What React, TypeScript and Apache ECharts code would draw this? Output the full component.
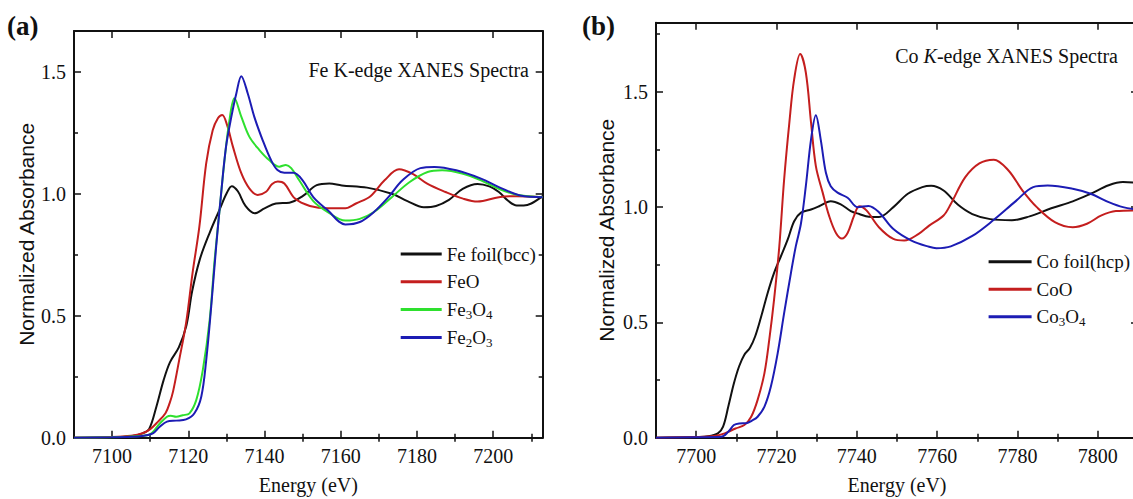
import React, { useEffect, useRef } from 'react';
import * as echarts from 'echarts';

// ---------------- Panel (a): Fe K-edge ----------------
const feXMin = 7090;
const feXMax = 7213;
const feYMax = 1.667;
const feMajorTicks = [7100, 7120, 7140, 7160, 7180, 7200];
const feMinorTicks = [7110, 7130, 7150, 7170, 7190, 7210];
const feYMajor = [0, 0.5, 1.0, 1.5];
const feYMinor = [0.25, 0.75, 1.25];

const feFoilE = [7090, 7100, 7105, 7108, 7109.7, 7111.6, 7113.5, 7115.2, 7117.5, 7119.5, 7121, 7123, 7125.6, 7128.2, 7130, 7131.4, 7133, 7135, 7137.4, 7140, 7143, 7146.5, 7150, 7153.7, 7157, 7160.3, 7166.9, 7173.4, 7177.5, 7181.8, 7185, 7188.4, 7192, 7195.9, 7199, 7201.5, 7204, 7206.2, 7208, 7210, 7213];
const feFoilA = [0, 0.002, 0.006, 0.018, 0.035, 0.126, 0.235, 0.31, 0.37, 0.46, 0.6, 0.73, 0.84, 0.935, 1.0, 1.031, 1.01, 0.95, 0.92, 0.94, 0.96, 0.963, 0.99, 1.035, 1.042, 1.034, 1.025, 1.0, 0.97, 0.945, 0.95, 0.975, 1.02, 1.04, 1.03, 1.007, 0.97, 0.952, 0.952, 0.96, 0.99];

const feOE = [7090, 7100, 7105, 7108, 7110, 7112, 7114, 7115.1, 7116, 7117.6, 7119.4, 7121.1, 7122.9, 7124.7, 7126.4, 7127.8, 7128.9, 7130.2, 7131.7, 7133.9, 7136, 7138.2, 7140.4, 7142, 7143.5, 7145.2, 7148, 7151.9, 7156.6, 7161.2, 7164, 7167.8, 7171.5, 7175.3, 7179, 7182.8, 7187.5, 7192.1, 7195.9, 7201.5, 7206.2, 7213];
const feOA = [0, 0.003, 0.008, 0.018, 0.035, 0.065, 0.1, 0.142, 0.19, 0.318, 0.469, 0.674, 0.865, 1.125, 1.26, 1.31, 1.323, 1.28, 1.193, 1.084, 1.022, 0.995, 1.008, 1.04, 1.05, 1.042, 0.98, 0.95, 0.94, 0.94, 0.96, 0.99, 1.055, 1.1, 1.08, 1.04, 1.007, 0.98, 0.968, 0.986, 0.99, 0.986];

const fe3o4E = [7090, 7100, 7105, 7109.7, 7112.5, 7114.4, 7115.4, 7116.8, 7118.5, 7120.3, 7122.1, 7123.8, 7125.6, 7126.9, 7128.2, 7129.5, 7130.8, 7132.1, 7133.9, 7136, 7138.6, 7141.2, 7143.9, 7145.6, 7147, 7149.1, 7152.8, 7156.6, 7161.2, 7165, 7168.7, 7173.4, 7178.1, 7182.8, 7186.6, 7192.1, 7196.8, 7201.5, 7206.2, 7213];
const fe3o4A = [0, 0.002, 0.005, 0.012, 0.058, 0.086, 0.09, 0.086, 0.092, 0.1, 0.155, 0.277, 0.482, 0.728, 0.933, 1.138, 1.302, 1.391, 1.316, 1.234, 1.18, 1.138, 1.111, 1.118, 1.105, 1.055, 0.97, 0.925, 0.89, 0.897, 0.925, 0.986, 1.048, 1.089, 1.096, 1.082, 1.055, 1.02, 0.996, 0.986];

const fe2o3E = [7090, 7100, 7105, 7107.9, 7110.7, 7112.5, 7114.4, 7116.8, 7119.4, 7121.6, 7123.4, 7124.7, 7126, 7127.3, 7128.6, 7129.9, 7131.3, 7132.6, 7133.9, 7135.6, 7137.3, 7139.5, 7141.7, 7143.4, 7145.2, 7147.6, 7150, 7152.8, 7156.6, 7161.2, 7165, 7168.7, 7172.5, 7176.2, 7180.9, 7184.6, 7190.3, 7196.8, 7201.5, 7207.1, 7213];
const fe2o3A = [0, 0.002, 0.004, 0.007, 0.018, 0.045, 0.066, 0.07, 0.075, 0.1, 0.168, 0.318, 0.536, 0.782, 1.0, 1.193, 1.316, 1.411, 1.482, 1.411, 1.316, 1.22, 1.138, 1.097, 1.086, 1.086, 1.055, 0.986, 0.932, 0.874, 0.884, 0.925, 0.986, 1.055, 1.105, 1.11, 1.096, 1.062, 1.027, 0.993, 0.986];

// ---------------- Panel (b): Co K-edge ----------------
const coXMin = 7690;
const coXMax = 7810;
const coYMax = 1.8;
const coMajorTicks = [7700, 7720, 7740, 7760, 7780, 7800];
const coMinorTicks = [7710, 7730, 7750, 7770, 7790];
const coYMajor = [0, 0.5, 1.0, 1.5];
const coYMinor = [0.25, 0.75, 1.25, 1.75];

const coFoilE = [7690, 7700, 7703, 7705.4, 7706.7, 7708, 7709.4, 7710.7, 7712, 7713.4, 7714.7, 7716.1, 7717.8, 7719.4, 7721.1, 7722.8, 7724.4, 7726.1, 7728.6, 7730.6, 7733.5, 7736, 7738.5, 7740.6, 7743, 7745.5, 7749.1, 7752.7, 7756.3, 7758.5, 7761.6, 7765.2, 7768.75, 7773.2, 7778.6, 7783, 7788.4, 7793.75, 7798.2, 7802.7, 7806.25, 7810];
const coFoilA = [0, 0.003, 0.006, 0.019, 0.048, 0.135, 0.236, 0.31, 0.36, 0.39, 0.44, 0.52, 0.628, 0.715, 0.787, 0.86, 0.939, 0.976, 0.99, 1.004, 1.026, 1.012, 0.983, 0.97, 0.958, 0.957, 1.0, 1.058, 1.087, 1.093, 1.072, 1.01, 0.97, 0.948, 0.943, 0.96, 0.995, 1.025, 1.058, 1.095, 1.109, 1.105];

const coOE = [7690, 7700, 7704.5, 7707.1, 7709.8, 7712, 7713.7, 7715.3, 7717, 7718.2, 7719.4, 7720.7, 7721.9, 7723.2, 7724.4, 7725.9, 7727.3, 7728.6, 7729.8, 7731.5, 7733.1, 7734.8, 7736.3, 7737.7, 7739.3, 7740.6, 7742.4, 7745.5, 7749.1, 7751.8, 7755.4, 7758, 7761.6, 7763.4, 7767, 7770.5, 7774.1, 7777.7, 7781.25, 7784.8, 7789.3, 7793.75, 7797.3, 7800.9, 7804.5, 7810];
const coOA = [0, 0.003, 0.007, 0.019, 0.04, 0.055, 0.091, 0.164, 0.28, 0.425, 0.6, 0.83, 1.12, 1.367, 1.555, 1.664, 1.584, 1.367, 1.178, 1.063, 0.962, 0.888, 0.864, 0.888, 0.962, 1.004, 0.986, 0.913, 0.862, 0.855, 0.884, 0.92, 0.964, 1.014, 1.13, 1.19, 1.206, 1.16, 1.072, 1.0, 0.935, 0.913, 0.928, 0.964, 0.983, 0.986];

const co3o4E = [7690, 7700, 7706.25, 7708, 7709.4, 7710.7, 7712.5, 7714, 7715.3, 7717, 7718.6, 7720.3, 7721.9, 7723.6, 7724.8, 7726.1, 7727.3, 7728.6, 7729.8, 7731, 7732.3, 7733.5, 7735.2, 7737.7, 7740.2, 7742.9, 7745.5, 7749.1, 7753.6, 7758, 7759.8, 7763.4, 7768.75, 7774.1, 7779.5, 7783.9, 7787.5, 7793.75, 7798.2, 7802.7, 7806.25, 7810];
const co3o4A = [0, 0.002, 0.004, 0.026, 0.055, 0.062, 0.063, 0.075, 0.091, 0.135, 0.222, 0.367, 0.54, 0.715, 0.83, 0.93, 1.091, 1.294, 1.399, 1.294, 1.149, 1.091, 1.063, 1.041, 1.0, 1.005, 0.978, 0.905, 0.855, 0.828, 0.822, 0.83, 0.875, 0.945, 1.025, 1.087, 1.094, 1.08, 1.058, 1.022, 1.0, 0.99];

const feNames = ['Fe foil(bcc)', 'FeO', 'Fe3O4', 'Fe2O3'];
const coNames = ['Co foil(hcp)', 'CoO', 'Co3O4'];
const colors = ['#111111', '#c41e1e', '#2ee02e', '#1c1cb4'];

const SERIF = 'Liberation Serif';
const SANS = 'Liberation Sans';
const INK = '#111111';

const zip = (e: number[], a: number[]) => e.map((x, i) => [x, a[i]]);

function xAxes(grid: number, min: number, max: number, major: number[], minor: number[]) {
  const base = { type: 'value', gridIndex: grid, min, max, splitLine: { show: false } };
  const line = { show: true, onZero: false, lineStyle: { color: INK, width: 2 } };
  const tickStyle = { color: INK, width: 1.5 };
  return [
    {
      ...base,
      position: 'bottom',
      axisLine: line,
      axisTick: { show: true, inside: true, length: 7, customValues: major, lineStyle: tickStyle },
      axisLabel: {
        show: true,
        customValues: major,
        margin: 8,
        fontFamily: SERIF,
        fontSize: 20,
        color: INK,
        formatter: (v: number) => String(Math.round(v)),
      },
      name: 'Energy (eV)',
      nameLocation: 'middle',
      nameGap: 37,
      nameTextStyle: { fontFamily: SERIF, fontSize: 20, color: INK },
    },
    {
      ...base,
      position: 'bottom',
      axisLine: { show: false },
      axisTick: { show: true, inside: true, length: 4, customValues: minor, lineStyle: tickStyle },
      axisLabel: { show: false },
    },
    {
      ...base,
      position: 'top',
      axisLine: line,
      axisTick: { show: true, inside: true, length: 7, customValues: major, lineStyle: tickStyle },
      axisLabel: { show: false },
    },
    {
      ...base,
      position: 'top',
      axisLine: { show: false },
      axisTick: { show: true, inside: true, length: 4, customValues: minor, lineStyle: tickStyle },
      axisLabel: { show: false },
    },
  ];
}

function yAxes(grid: number, max: number, major: number[], minor: number[], gap: number) {
  const base = { type: 'value', gridIndex: grid, min: 0, max, splitLine: { show: false } };
  const line = { show: true, onZero: false, lineStyle: { color: INK, width: 2 } };
  const tickStyle = { color: INK, width: 1.5 };
  return [
    {
      ...base,
      position: 'left',
      axisLine: line,
      axisTick: { show: true, inside: true, length: 7, customValues: major, lineStyle: tickStyle },
      axisLabel: {
        show: true,
        customValues: major,
        margin: 8,
        fontFamily: SERIF,
        fontSize: 20,
        color: INK,
        formatter: (v: number) => v.toFixed(1),
      },
      name: 'Normalized Absorbance',
      nameLocation: 'middle',
      nameGap: gap,
      nameTextStyle: { fontFamily: SANS, fontSize: 21, color: INK },
    },
    {
      ...base,
      position: 'left',
      axisLine: { show: false },
      axisTick: { show: true, inside: true, length: 4, customValues: minor, lineStyle: tickStyle },
      axisLabel: { show: false },
    },
    {
      ...base,
      position: 'right',
      axisLine: line,
      axisTick: { show: true, inside: true, length: 7, customValues: major, lineStyle: tickStyle },
      axisLabel: { show: false },
    },
    {
      ...base,
      position: 'right',
      axisLine: { show: false },
      axisTick: { show: true, inside: true, length: 4, customValues: minor, lineStyle: tickStyle },
      axisLabel: { show: false },
    },
  ];
}

const richFmt = (name: string) =>
  name
    .split(/(\d)/)
    .filter((t) => t.length > 0)
    .map((t) => (/^\d$/.test(t) ? `{s|${t}}` : `{n|${t}}`))
    .join('');

const legendRich = {
  n: { fontFamily: SERIF, fontSize: 19, color: INK, lineHeight: 24 },
  s: { fontFamily: SERIF, fontSize: 13, color: INK, lineHeight: 14, padding: [10, 0, 0, 0] },
};

function makeSeries(name: string, e: number[], a: number[], color: string, axisIdx: number) {
  return {
    name,
    type: 'line',
    xAxisIndex: axisIdx,
    yAxisIndex: axisIdx,
    data: zip(e, a),
    showSymbol: false,
    symbol: 'none',
    smooth: 0.35,
    lineStyle: { color, width: 2 },
    itemStyle: { color },
    silent: true,
    z: 3,
  };
}

export default function App() {
  const ref = useRef<HTMLDivElement>(null);
  useEffect(() => {
    if (!ref.current) return;
    const chart = echarts.init(ref.current, undefined, { renderer: 'svg' });
    const option: any = {
      animation: false,
      backgroundColor: '#ffffff',
      textStyle: { fontFamily: SERIF, color: INK },
      grid: [
        { left: 74, top: 31, width: 468.7, height: 406.7, containLabel: false, outerBoundsMode: 'none' },
        { left: 656, top: 22.7, width: 482, height: 415, containLabel: false, outerBoundsMode: 'none' },
      ],
      xAxis: [
        ...xAxes(0, feXMin, feXMax, feMajorTicks, feMinorTicks),
        ...xAxes(1, coXMin, coXMax, coMajorTicks, coMinorTicks),
      ],
      yAxis: [
        ...yAxes(0, feYMax, feYMajor, feYMinor, 35),
        ...yAxes(1, coYMax, coYMajor, coYMinor, 39),
      ],
      legend: [
        {
          data: feNames,
          orient: 'vertical',
          left: 400.7,
          top: 242,
          padding: 0,
          itemWidth: 41,
          itemHeight: 3,
          itemGap: 3.8,
          icon: 'rect',
          selectedMode: false,
          formatter: richFmt,
          textStyle: { rich: legendRich, fontFamily: SERIF, fontSize: 19, color: INK, lineHeight: 24 },
        },
        {
          data: coNames,
          orient: 'vertical',
          left: 988.6,
          top: 249.7,
          padding: 0,
          itemWidth: 43,
          itemHeight: 3,
          itemGap: 3.5,
          icon: 'rect',
          selectedMode: false,
          formatter: richFmt,
          textStyle: { rich: legendRich, fontFamily: SERIF, fontSize: 19, color: INK, lineHeight: 24 },
        },
      ],
      graphic: [
        {
          type: 'text',
          x: 7,
          y: 26,
          style: { text: '(a)', fill: INK, fontFamily: SERIF, fontSize: 27, fontWeight: 'bold', align: 'left', verticalAlign: 'middle' },
        },
        {
          type: 'text',
          x: 582,
          y: 26,
          style: { text: '(b)', fill: INK, fontFamily: SERIF, fontSize: 27, fontWeight: 'bold', align: 'left', verticalAlign: 'middle' },
        },
        {
          type: 'text',
          x: 529,
          y: 70,
          style: { text: 'Fe K-edge XANES Spectra', fill: INK, fontFamily: SERIF, fontSize: 20, align: 'right', verticalAlign: 'middle' },
        },
        {
          type: 'text',
          x: 1118,
          y: 56,
          style: {
            text: '{n|Co }{i|K}{n|-edge XANES Spectra}',
            fill: INK,
            fontFamily: SERIF,
            fontSize: 20,
            align: 'right',
            verticalAlign: 'middle',
            rich: {
              n: { fontFamily: SERIF, fontSize: 20, fill: INK, color: INK },
              i: { fontFamily: SERIF, fontSize: 20, fontStyle: 'italic', fill: INK, color: INK },
            },
          },
        },
      ],
      series: [
        makeSeries(feNames[0], feFoilE, feFoilA, colors[0], 0),
        makeSeries(feNames[1], feOE, feOA, colors[1], 0),
        makeSeries(feNames[2], fe3o4E, fe3o4A, colors[2], 0),
        makeSeries(feNames[3], fe2o3E, fe2o3A, colors[3], 0),
        makeSeries(coNames[0], coFoilE, coFoilA, colors[0], 4),
        makeSeries(coNames[1], coOE, coOA, colors[1], 4),
        makeSeries(coNames[2], co3o4E, co3o4A, colors[3], 4),
      ],
    };
    chart.setOption(option);
    return () => {
      chart.dispose();
    };
  }, []);
  return (
    <div
      ref={ref}
      style={{ position: 'fixed', left: 0, top: 0, width: 1133, height: 499, background: '#ffffff' }}
    />
  );
}
